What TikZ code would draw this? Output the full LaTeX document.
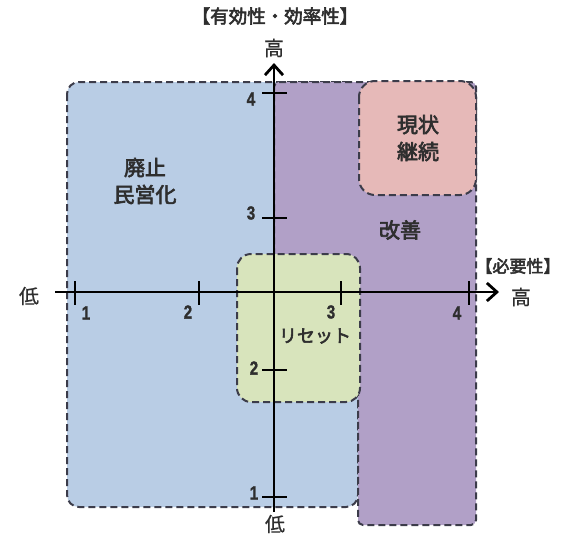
\documentclass[tikz,border=0pt]{standalone}
\usepackage{fontspec}
\setmainfont{Liberation Sans}
\newfontfamily\numfont[UprightFont={* Bold}, FakeBold=1.5]{Liberation Sans}
\newfontfamily\jp[FakeBold=0.6]{Noto Sans CJK JP}
\newfontfamily\jpb[FakeBold=3]{Noto Sans CJK JP}
\usetikzlibrary{arrows.meta}
\definecolor{bluec}{HTML}{B9CDE5}
\definecolor{purpc}{HTML}{B1A0C7}
\definecolor{pinkc}{HTML}{E6B9B8}
\definecolor{greenc}{HTML}{D8E4BC}
\definecolor{bordc}{HTML}{3C3C4A}
\definecolor{txtc}{HTML}{2E2E2E}
\newcommand{\narrownum}[1]{\scalebox{0.8}[1]{#1}}
\begin{document}
\begin{tikzpicture}[x=1pt,y=-1pt,
  zone/.style={draw=bordc, line width=2pt, dash pattern=on 7pt off 4pt},
  axisline/.style={line width=2.8pt, black},
  tick/.style={line width=2.4pt, black},
  num/.style={font=\numfont\fontsize{19}{19}\selectfont, inner sep=0pt, text=txtc},
  zlabel/.style={font=\jpb\fontsize{21}{27}\selectfont, align=center, text=txtc, inner sep=0pt},
  alabel/.style={font=\jp\fontsize{20}{20}\selectfont, text=txtc, inner sep=0pt},
  tlabel/.style={font=\jpb\fontsize{18.5}{18.5}\selectfont, text=txtc, inner sep=0pt}]
\useasboundingbox (0,0) rectangle (566,536);
% zones
\path[zone, fill=bluec, rounded corners=12pt] (67,82) rectangle (358,507);
\path[zone, fill=purpc, rounded corners=5pt] (274,82) -- (476,82) -- (476,525) -- (358,525) -- (358,330) -- (274,330) -- cycle;
\path[zone, fill=greenc, rounded corners=14pt] (237,254) rectangle (360,402);
\path[zone, fill=pinkc, rounded corners=16pt] (359,81) rectangle (476,195);
% axes
\coordinate (xs) at (55,292);
\coordinate (xe) at (499,292);
\coordinate (ys) at (274,512);
\coordinate (ye) at (274,63);
\draw[axisline, -{Straight Barb[length=10pt,width=18pt,line width=2.8pt]}] (xs) -- (xe);
\draw[axisline, -{Straight Barb[length=10pt,width=18pt,line width=2.8pt]}] (ys) -- (ye);
% x ticks
\foreach \n/\x in {1/75,2/199,3/341,4/469}{
  \coordinate (xt\n a) at (\x,281);
  \coordinate (xt\n b) at (\x,305);
  \draw[tick] (xt\n a) -- (xt\n b);
}
\node[num] (x1) at (86,313) {\narrownum{1}};
\node[num] (x2) at (188,312) {\narrownum{2}};
\node[num] (x3) at (331,312) {\narrownum{3}};
\node[num] (x4) at (457,313) {\narrownum{4}};
% y ticks
\foreach \n/\y in {1/497,2/370,3/218,4/93}{
  \coordinate (yt\n a) at (262,\y);
  \coordinate (yt\n b) at (287,\y);
  \draw[tick] (yt\n a) -- (yt\n b);
}
\node[num] (y4) at (251,99) {\narrownum{4}};
\node[num] (y3) at (251,213) {\narrownum{3}};
\node[num] (y2) at (254,368) {\narrownum{2}};
\node[num] (y1) at (254,493) {\narrownum{1}};
% axis labels
\node[tlabel] (ytitle) at (275,16) {【有効性・効率性】};
\node[alabel] (yhigh) at (274,48) {高};
\node[alabel] (ylow) at (275,524) {低};
\node[alabel] (xlow) at (29,296) {低};
\node[alabel] (xhigh) at (521,297) {高};
\node[tlabel, font=\jpb\fontsize{17}{17}\selectfont] (xtitle) at (518,266) {【必要性】};
% zone labels
\node[zlabel] (abol) at (145,181) {廃止\\民営化};
\node[zlabel] (keep) at (418,138) {現状\\継続};
\node[zlabel] (impr) at (400,230) {改善};
\node[zlabel, font=\jpb\fontsize{18}{22}\selectfont] (reset) at (315,336) {リセット};
\end{tikzpicture}
\end{document}
